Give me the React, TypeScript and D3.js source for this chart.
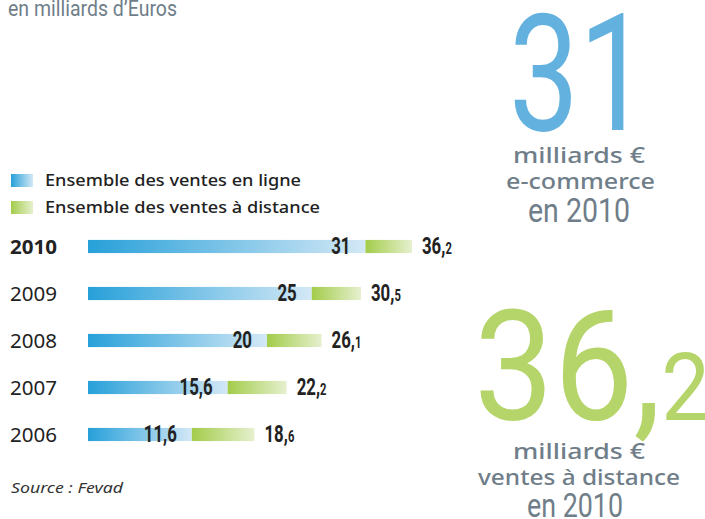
import React from "react";
import * as d3 from "d3";

const years = ["2010", "2009", "2008", "2007", "2006"];
const online = [31, 25, 20, 15.6, 11.6];
const distance = [36.2, 30.5, 26.1, 22.2, 18.6];
const legendLabels = ["Ensemble des ventes en ligne", "Ensemble des ventes à distance"];

const W = 705;
const H = 519;
const sans = "'Noto Sans', 'DejaVu Sans', sans-serif";
const bold = "'Roboto', 'DejaVu Sans', sans-serif";
const grey = "#6f7e89";

const fmt = (v: number) => String(v).replace(".", ",");

// narrow text: draw a normal font and squeeze it horizontally
function Narrow({ x, y, sx = 0.7, anchor = "start", size, weight = 700, fill = "#222", children }: any) {
  return (
    <g transform={`translate(${x},${y}) scale(${sx},1)`}>
      <text textAnchor={anchor} fontFamily={bold} fontWeight={weight} fontSize={size} fill={fill}>
        {children}
      </text>
    </g>
  );
}

export default function App() {
  const x = d3.scaleLinear().domain([0, 40]).range([88, 446]);
  const y = d3.scaleBand().domain(years).range([223, 458]).paddingInner(0.72).paddingOuter(0.36);
  const bh = y.bandwidth();

  return (
    <svg width={W} height={H} style={{ position: "absolute", left: 0, top: 0, background: "#fff" }}>
      <defs>
        <linearGradient id="gBlue" x1="0" x2="1" y1="0" y2="0">
          <stop offset="0" stopColor="#27a0d9" />
          <stop offset="1" stopColor="#d3e8f6" />
        </linearGradient>
        <linearGradient id="gGreen" x1="0" x2="1" y1="0" y2="0">
          <stop offset="0" stopColor="#a3cc4a" />
          <stop offset="1" stopColor="#e6f0cf" />
        </linearGradient>
      </defs>

      {/* title, partly cut at the top */}
      <text x={8} y={16} fontFamily={bold} fontSize={22} fill={grey} textLength={169} lengthAdjust="spacingAndGlyphs">
        en milliards d’Euros
      </text>

      {/* legend */}
      {legendLabels.map((l, i) => (
        <g key={l} transform={`translate(11,${174 + i * 27})`}>
          <rect width={22} height={13} fill={i === 0 ? "url(#gBlue)" : "url(#gGreen)"} />
          <text
            x={34}
            y={12}
            fontFamily={sans}
            fontWeight={500}
            fontSize={16}
            fill="#222"
            textLength={i === 0 ? 256 : 275}
            lengthAdjust="spacingAndGlyphs"
          >
            {l}
          </text>
        </g>
      ))}

      {/* bars */}
      {years.map((yr, i) => {
        const y0 = y(yr)!;
        const xb = x(online[i]);
        const xg = x(distance[i]);
        const [ip, dp] = fmt(distance[i]).split(",");
        return (
          <g key={yr}>
            <text
              x={10}
              y={y0 + bh / 2 + 7}
              fontFamily={sans}
              fontSize={20}
              fontWeight={i === 0 ? 700 : 400}
              fill="#222"
              textLength={47}
              lengthAdjust="spacingAndGlyphs"
            >
              {yr}
            </text>
            <rect x={x(0)} y={y0} width={xb - x(0)} height={bh} fill="url(#gBlue)" />
            <rect x={xb} y={y0} width={xg - xb} height={bh} fill="url(#gGreen)" />
            <Narrow x={xb - 15} y={y0 + bh + 1} anchor="end" size={24}>
              {fmt(online[i])}
            </Narrow>
            <Narrow x={xg + 10} y={y0 + bh + 1} size={24}>
              {ip},<tspan fontSize={16}>{dp}</tspan>
            </Narrow>
          </g>
        );
      })}

      <text x={11} y={493} fontFamily={sans} fontStyle="italic" fontSize={15} fill="#333" textLength={112} lengthAdjust="spacingAndGlyphs">
        Source : Fevad
      </text>

      {/* big figure: e-commerce */}
      <text
        x={509}
        y={130}
        fontFamily="Roboto, sans-serif"
        fontWeight={400}
        fontSize={164}
        fill="#63b1df"
        textLength={140}
        lengthAdjust="spacingAndGlyphs"
      >
        31
      </text>
      <text x={513} y={163} fontFamily={sans} fontWeight={500} fontSize={22} fill={grey} textLength={132} lengthAdjust="spacingAndGlyphs">
        milliards €
      </text>
      <text x={506} y={189} fontFamily={sans} fontWeight={500} fontSize={22} fill={grey} textLength={149} lengthAdjust="spacingAndGlyphs">
        e-commerce
      </text>
      <text x={528} y={222} fontFamily={bold} fontWeight={400} fontSize={34} fill={grey} textLength={102} lengthAdjust="spacingAndGlyphs">
        en 2010
      </text>

      {/* big figure: ventes à distance */}
      <text x={474} y={420} fontFamily="Roboto, sans-serif" fontWeight={400} fontSize={154} fill="#b5d56b" textLength={236} lengthAdjust="spacingAndGlyphs">
        36,<tspan fontSize={94}>2</tspan>
      </text>
      <text x={513} y={459} fontFamily={sans} fontWeight={500} fontSize={22} fill={grey} textLength={132} lengthAdjust="spacingAndGlyphs">
        milliards €
      </text>
      <text x={478} y={485} fontFamily={sans} fontWeight={500} fontSize={22} fill={grey} textLength={202} lengthAdjust="spacingAndGlyphs">
        ventes à distance
      </text>
      <text x={527} y={517} fontFamily={bold} fontWeight={400} fontSize={34} fill={grey} textLength={96} lengthAdjust="spacingAndGlyphs">
        en 2010
      </text>
    </svg>
  );
}
